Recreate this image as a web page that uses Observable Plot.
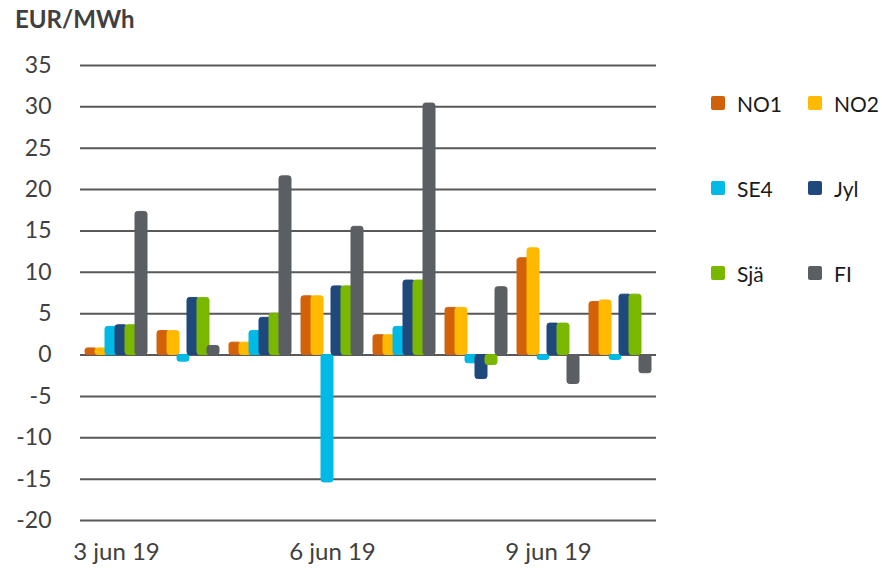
<!DOCTYPE html>
<html>
<head>
<meta charset="utf-8">
<script src="https://cdn.jsdelivr.net/npm/d3@7"></script>
<script src="https://cdn.jsdelivr.net/npm/@observablehq/plot@0.6"></script>
<style>
  html, body { margin: 0; padding: 0; background: #fff; }
  #wrap { position: relative; width: 882px; height: 568px; font-family: Lato, "Noto Sans", sans-serif; color: #404040; }
  #title { position: absolute; left: 15px; top: 4px; font-size: 24px; font-weight: bold; color: #404040; }
  #legend { position: absolute; left: 711px; top: 0; }
  .item { position: absolute; display: flex; align-items: center; font-size: 21px; color: #1a1a1a; white-space: nowrap; }
  .sw { width: 14px; height: 14px; border-radius: 2px; margin-right: 12px; }
</style>
</head>
<body>
<div id="wrap">
  <div id="title">EUR/MWh</div>
  <div id="chart"></div>
  <div id="legend"></div>
</div>
<script>
const days = ["3 jun 19", "4 jun 19", "5 jun 19", "6 jun 19", "7 jun 19", "8 jun 19", "9 jun 19", "10 jun 19"];
const shownDays = ["3 jun 19", "6 jun 19", "9 jun 19"];
const series = ["NO1", "NO2", "SE4", "Jyl", "Sjä", "FI"];
const colors = ["#D2620A", "#FFB900", "#00B9E4", "#1F497D", "#7AB800", "#5B5F63"];
const yTicks = [-20, -15, -10, -5, 0, 5, 10, 15, 20, 25, 30, 35];

const NO1 = [0.8, 2.9, 1.5, 7.1, 2.4, 5.7, 11.7, 6.4];
const NO2 = [0.8, 2.9, 1.5, 7.1, 2.4, 5.7, 12.9, 6.6];
const SE4 = [3.4, -0.8, 2.9, -15.4, 3.4, -1.0, -0.6, -0.6];
const Jyl = [3.6, 6.9, 4.5, 8.3, 9.0, -2.9, 3.8, 7.3];
const Sja = [3.6, 6.9, 5.0, 8.3, 9.0, -1.2, 3.8, 7.3];
const FI  = [17.3, 1.1, 21.6, 15.5, 30.4, 8.2, -3.5, -2.2];

const valuesBySeries = [NO1, NO2, SE4, Jyl, Sja, FI];
const data = [];
days.forEach((d, i) => {
  series.forEach((s, j) => data.push({day: d, series: s, value: valuesBySeries[j][i]}));
});

const chart = Plot.plot({
  width: 882,
  height: 568,
  marginLeft: 78,
  marginRight: 225,
  marginTop: 65,
  marginBottom: 48,
  style: {fontSize: "23px", fontFamily: "Lato, 'Noto Sans', sans-serif", color: "#404040", background: "#fff"},
  fx: {domain: days, padding: 0, label: null, tickSize: 0, tickPadding: 22,
       tickFormat: d => shownDays.includes(d) ? d : ""},
  x: {domain: series, padding: 0, paddingInner: 0, paddingOuter: 0.3, axis: null},
  y: {domain: [-20, 35], ticks: yTicks, tickSize: 0, tickPadding: 29, label: null, tickFormat: d => String(d)},
  color: {domain: series, range: colors},
  marks: [
    Plot.ruleY(yTicks, {stroke: "#595959", strokeWidth: 2}),
    Plot.barY(data, {fx: "day", x: "series", y: "value", fill: "series", stroke: "series", strokeWidth: 1,
                     insetLeft: -1, insetRight: -1, rx: 2.5})
  ]
});
chart.querySelectorAll("g[aria-label='fx-axis'] text, g[aria-label='fx-axis tick label'] text").forEach(t => t.style.fontSize = "24px");
document.getElementById("chart").appendChild(chart);

const legend = document.getElementById("legend");
const rowsY = [103, 188, 273];
series.forEach((s, j) => {
  const row = Math.floor(j / 2), col = j % 2;
  const item = document.createElement("div");
  item.className = "item";
  item.style.left = (col * 97) + "px";
  item.style.top = (rowsY[row] - 13) + "px";
  item.style.height = "26px";
  item.innerHTML = `<div class="sw" style="background:${colors[j]}"></div><span>${s}</span>`;
  legend.appendChild(item);
});
</script>
</body>
</html>
